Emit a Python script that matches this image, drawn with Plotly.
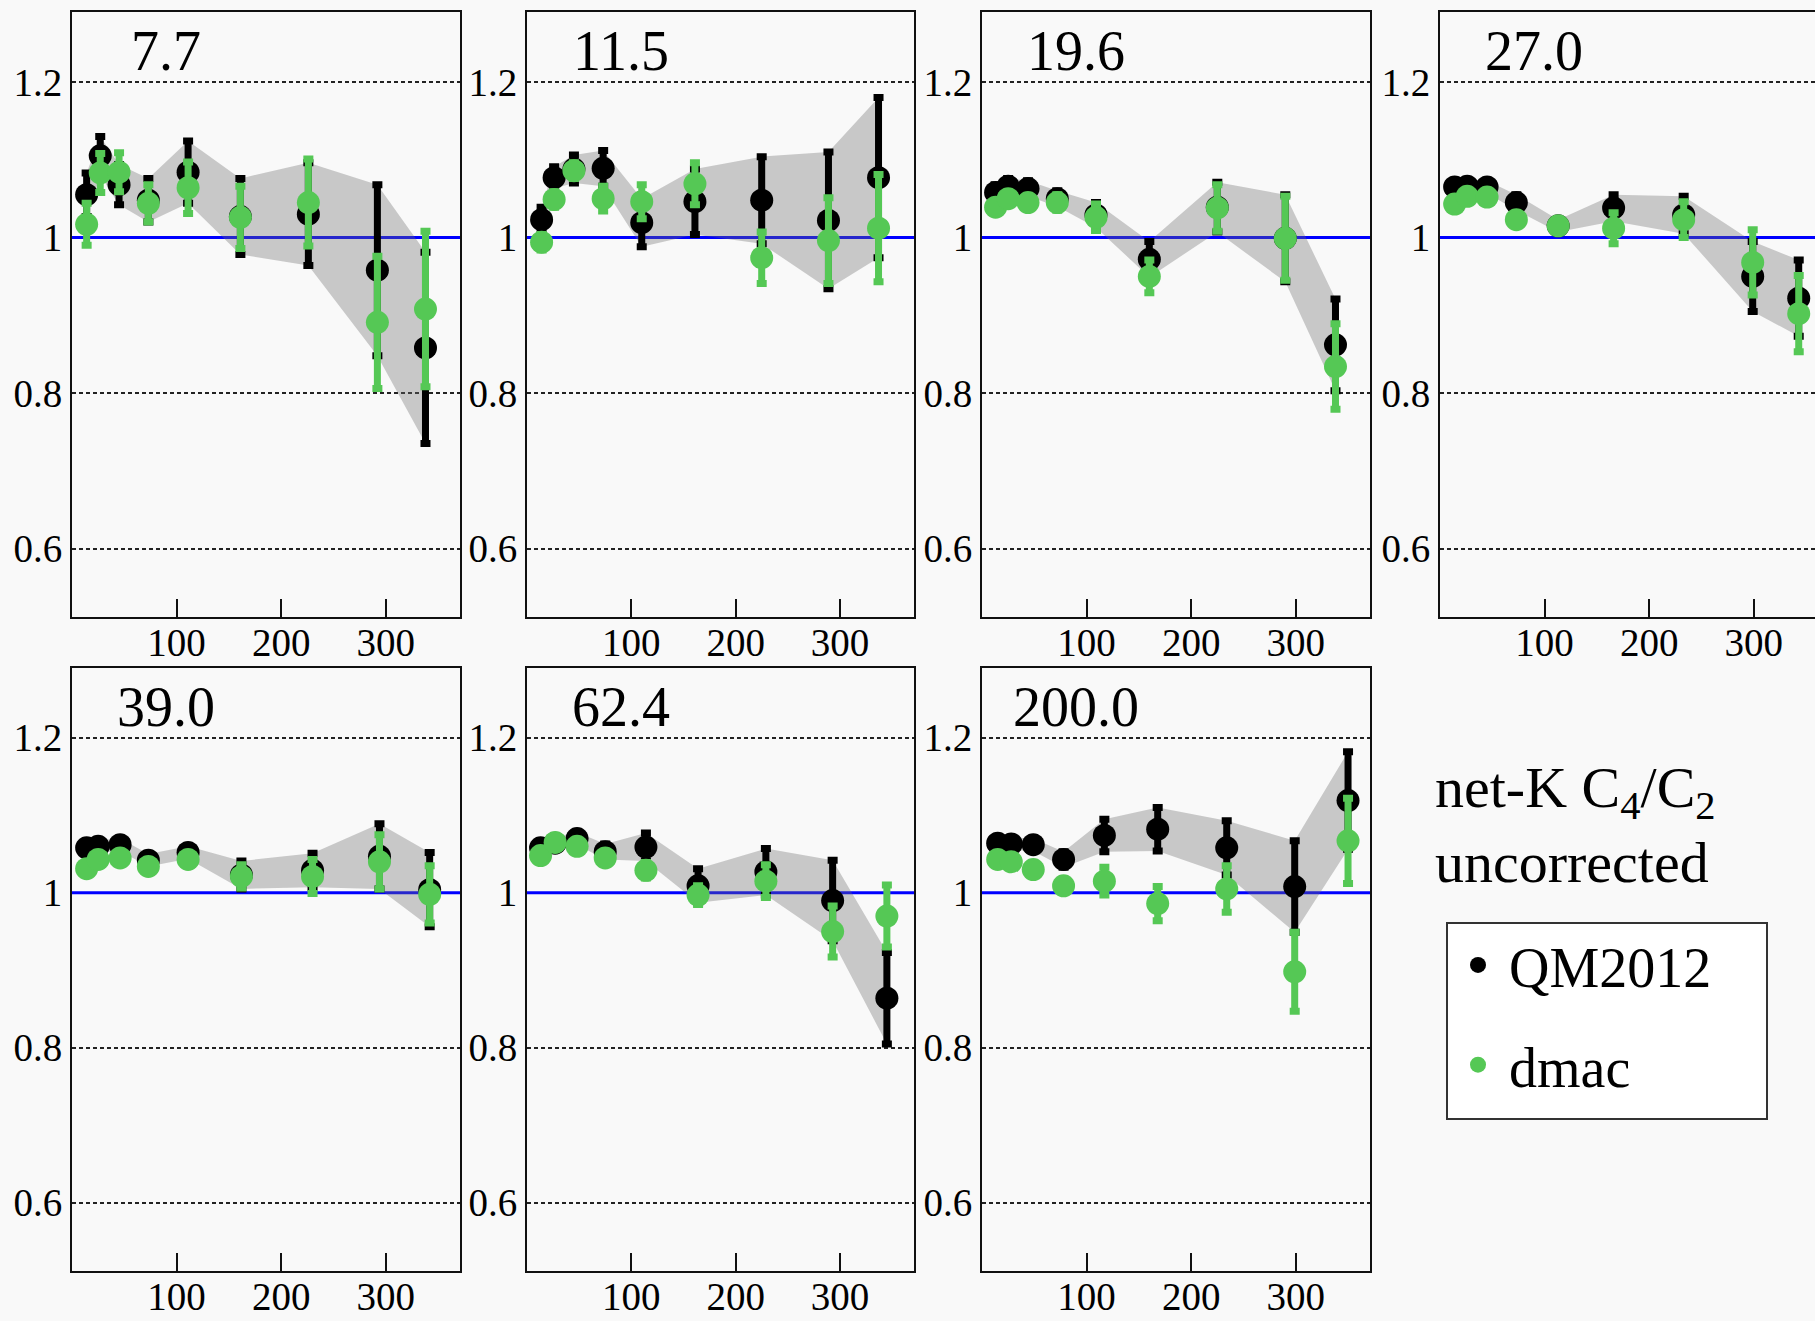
import plotly.graph_objects as go

# ---------------- data ----------------
ENERGIES = ["7.7", "11.5", "19.6", "27.0", "39.0", "62.4", "200.0"]

NPART_7 = [14, 27, 45, 73, 111, 161, 226, 292, 338]
QM_7 = [1.055, 1.105, 1.068, 1.048, 1.084, 1.027, 1.030, 0.958, 0.858]
QM_ERR_7 = [0.028, 0.025, 0.026, 0.028, 0.040, 0.049, 0.066, 0.110, 0.123]
DMAC_7 = [1.017, 1.083, 1.084, 1.044, 1.064, 1.026, 1.045, 0.891, 0.908]
DMAC_ERR_7 = [0.027, 0.025, 0.025, 0.024, 0.033, 0.040, 0.056, 0.085, 0.100]

NPART_11 = [14, 26, 45, 73, 110, 161, 225, 289, 337]
QM_11 = [1.023, 1.077, 1.088, 1.089, 1.019, 1.046, 1.048, 1.022, 1.077]
QM_ERR_11 = [0.016, 0.014, 0.018, 0.023, 0.031, 0.042, 0.056, 0.088, 0.103]
DMAC_11 = [0.994, 1.049, 1.086, 1.050, 1.046, 1.069, 0.974, 0.996, 1.012]
DMAC_ERR_11 = [0.010, 0.010, 0.010, 0.016, 0.022, 0.027, 0.033, 0.055, 0.069]

NPART_19 = [13, 25, 44, 72, 109, 160, 225, 290, 338]
QM_19 = [1.058, 1.066, 1.063, 1.050, 1.029, 0.972, 1.039, 0.999, 0.862]
QM_ERR_19 = [0.010, 0.010, 0.010, 0.010, 0.016, 0.023, 0.032, 0.056, 0.059]
DMAC_19 = [1.039, 1.050, 1.045, 1.045, 1.026, 0.950, 1.038, 0.999, 0.834]
DMAC_ERR_19 = [0.008, 0.008, 0.008, 0.010, 0.017, 0.021, 0.030, 0.054, 0.055]

NPART_27 = [14, 26, 45, 73, 113, 166, 233, 299, 343]
QM_27 = [1.065, 1.066, 1.065, 1.045, 1.015, 1.038, 1.029, 0.950, 0.922]
QM_ERR_27 = [0.008, 0.008, 0.008, 0.010, 0.008, 0.017, 0.024, 0.045, 0.049]
DMAC_27 = [1.043, 1.053, 1.052, 1.023, 1.015, 1.012, 1.023, 0.968, 0.902]
DMAC_ERR_27 = [0.008, 0.008, 0.008, 0.008, 0.008, 0.020, 0.023, 0.042, 0.049]

NPART_39 = [14, 25, 46, 73, 111, 162, 230, 294, 342]
QM_39 = [1.058, 1.060, 1.062, 1.042, 1.052, 1.023, 1.029, 1.047, 1.004]
QM_ERR_39 = [0.008, 0.008, 0.008, 0.008, 0.008, 0.018, 0.022, 0.042, 0.048]
DMAC_39 = [1.031, 1.043, 1.045, 1.034, 1.043, 1.021, 1.021, 1.040, 0.998]
DMAC_ERR_39 = [0.008, 0.008, 0.008, 0.008, 0.008, 0.015, 0.022, 0.035, 0.037]

NPART_62 = [13, 27, 48, 75, 114, 164, 229, 293, 345]
QM_62 = [1.058, 1.064, 1.070, 1.053, 1.059, 1.009, 1.027, 0.990, 0.864]
QM_ERR_62 = [0.008, 0.008, 0.008, 0.010, 0.018, 0.022, 0.030, 0.052, 0.059]
DMAC_62 = [1.048, 1.065, 1.060, 1.045, 1.029, 0.997, 1.015, 0.950, 0.970]
DMAC_ERR_62 = [0.008, 0.008, 0.008, 0.008, 0.010, 0.012, 0.021, 0.033, 0.040]

NPART_200 = [15, 28, 49, 78, 117, 168, 234, 299, 350]
QM_200 = [1.064, 1.063, 1.062, 1.043, 1.074, 1.082, 1.058, 1.008, 1.119]
QM_ERR_200 = [0.008, 0.008, 0.008, 0.010, 0.021, 0.028, 0.035, 0.059, 0.063]
DMAC_200 = [1.043, 1.040, 1.030, 1.009, 1.015, 0.986, 1.005, 0.898, 1.067]
DMAC_ERR_200 = [0.008, 0.008, 0.008, 0.008, 0.018, 0.022, 0.030, 0.051, 0.055]

Y_TICKS = [0.6, 0.8, 1.0, 1.2]
Y_TICK_TEXT = ["0.6", "0.8", "1", "1.2"]
Y_GRID = [0.6, 0.8, 1.2]
REF_LEVEL = 1.0
X_TICKS = [100, 200, 300]
SERIES_NAMES = ["QM2012", "dmac"]
NOTE_TEXT = "net-K C<sub>4</sub>/C<sub>2</sub><br>uncorrected"

PANELS = [
    (NPART_7, QM_7, QM_ERR_7, DMAC_7, DMAC_ERR_7),
    (NPART_11, QM_11, QM_ERR_11, DMAC_11, DMAC_ERR_11),
    (NPART_19, QM_19, QM_ERR_19, DMAC_19, DMAC_ERR_19),
    (NPART_27, QM_27, QM_ERR_27, DMAC_27, DMAC_ERR_27),
    (NPART_39, QM_39, QM_ERR_39, DMAC_39, DMAC_ERR_39),
    (NPART_62, QM_62, QM_ERR_62, DMAC_62, DMAC_ERR_62),
    (NPART_200, QM_200, QM_ERR_200, DMAC_200, DMAC_ERR_200),
]

# ---------------- layout geometry ----------------
W, H = 1815, 1321
FONT = "Liberation Serif, Times New Roman, serif"
BG = "#f9f9f9"
BLACK = "#000000"
GREEN = "#55c855"
BAND = "rgba(110,110,110,0.35)"

COLS_PX = [(72, 460), (527, 914), (982, 1370), (1440, 1815)]
ROWS_PX = [(12, 617), (668, 1271)]
X_RANGE = [0, 371]
X_RANGE_CUT = [0, 371 * (1815 - 1440) / 388]
Y_RANGE = [0.512, 1.29]

fig = go.Figure()
layout = dict(
    width=W, height=H,
    margin=dict(l=0, r=0, t=0, b=0),
    paper_bgcolor=BG, plot_bgcolor=BG,
    font=dict(family=FONT, color="black"),
    showlegend=True,
    legend=dict(
        x=1447 / W, y=1 - 922 / H, xanchor="left", yanchor="top",
        bgcolor="rgba(0,0,0,0)", borderwidth=0,
        font=dict(family=FONT, size=56, color="black"),
        tracegroupgap=24, itemwidth=52,
    ),
)
shapes = []
annotations = []

for i, (xs, qm, qme, dm, dme) in enumerate(PANELS):
    n = i + 1
    row, col = divmod(i, 4)
    xa = "x" if n == 1 else f"x{n}"
    ya = "y" if n == 1 else f"y{n}"
    x0, x1 = COLS_PX[col]
    t, b = ROWS_PX[row]
    cut = (row == 0 and col == 3)

    layout[f"xaxis{'' if n == 1 else n}"] = dict(
        domain=[x0 / W, x1 / W], anchor=ya,
        range=X_RANGE_CUT if cut else X_RANGE,
        tickvals=X_TICKS, ticks="inside", ticklen=18, tickwidth=2, tickcolor="#111",
        ticklabelstandoff=-10,
        showgrid=False, zeroline=False,
        showline=True, linecolor="#111", linewidth=2, mirror=True,
        tickfont=dict(family=FONT, size=39, color="black"),
    )
    layout[f"yaxis{'' if n == 1 else n}"] = dict(
        domain=[1 - b / H, 1 - t / H], anchor=xa,
        range=Y_RANGE,
        tickvals=Y_TICKS, ticktext=Y_TICK_TEXT, ticks="",
        showgrid=False, zeroline=False,
        minor=dict(tickvals=Y_GRID, ticks="", showgrid=True,
                   gridcolor="#222", gridwidth=1.5, griddash="4px,3px"),
        showline=True, linecolor="#111", linewidth=2, mirror=not cut,
        tickfont=dict(family=FONT, size=39, color="black"),
    )

    # systematic band: QM2012 value +/- error
    upper = [v + e for v, e in zip(qm, qme)]
    lower = [v - e for v, e in zip(qm, qme)]
    fig.add_trace(go.Scatter(
        x=list(xs) + list(xs)[::-1], y=upper + lower[::-1],
        fill="toself", fillcolor=BAND, line=dict(width=0),
        mode="lines", hoverinfo="skip", showlegend=False,
        xaxis=xa, yaxis=ya,
    ))
    fig.add_trace(go.Scatter(
        x=xs, y=qm, mode="markers", name=SERIES_NAMES[0],
        legendgroup="qm", showlegend=(n == 1),
        marker=dict(color=BLACK, size=23),
        error_y=dict(type="data", array=qme, visible=True, color=BLACK,
                     thickness=7, width=5),
        xaxis=xa, yaxis=ya,
    ))
    fig.add_trace(go.Scatter(
        x=xs, y=dm, mode="markers", name=SERIES_NAMES[1],
        legendgroup="dmac", showlegend=(n == 1),
        marker=dict(color=GREEN, size=23),
        error_y=dict(type="data", array=dme, visible=True, color=GREEN,
                     thickness=7, width=5),
        xaxis=xa, yaxis=ya,
    ))

    shapes.append(dict(
        type="line", xref=f"{xa} domain", x0=0, x1=1, yref=ya,
        y0=REF_LEVEL, y1=REF_LEVEL,
        line=dict(color="#0000ff", width=3), layer="below",
    ))
    annotations.append(dict(
        text=ENERGIES[i], xref=xa, x=90, yref=f"{ya} domain", y=0.936,
        xanchor="center", yanchor="middle", showarrow=False,
        font=dict(family=FONT, size=56, color="black"),
    ))

# legend frame
shapes.append(dict(
    type="rect", xref="paper", yref="paper",
    x0=1447 / W, x1=1767 / W, y0=1 - 1119 / H, y1=1 - 923 / H,
    fillcolor="white", line=dict(color="#333333", width=2), layer="above",
))

annotations.append(dict(
    text=NOTE_TEXT, xref="paper", yref="paper",
    x=1433 / W, y=1 - 825 / H, xanchor="left", yanchor="middle", align="left",
    showarrow=False, font=dict(family=FONT, size=58, color="black"),
))

layout["shapes"] = shapes
layout["annotations"] = annotations
fig.update_layout(**layout)
fig.write_html("out.html", config={"displayModeBar": False},
               post_script="document.body.style.margin='0px';")
